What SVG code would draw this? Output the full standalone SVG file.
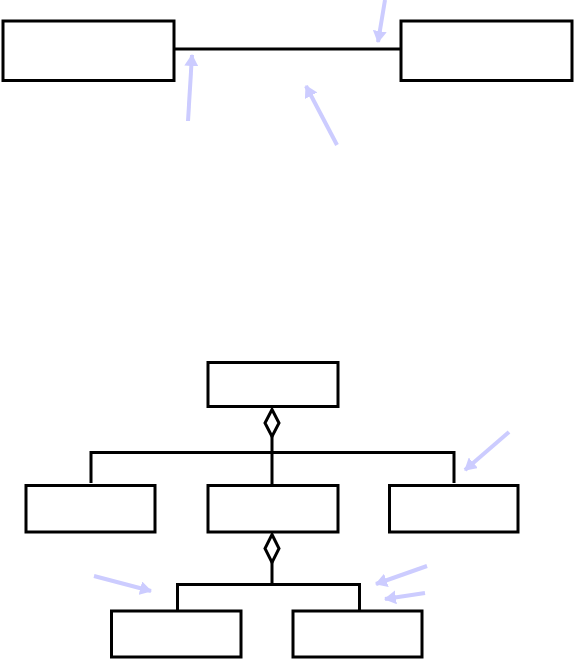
<svg xmlns="http://www.w3.org/2000/svg" width="575" height="659" viewBox="0 0 575 659">
<style>
.box{fill:#fff;stroke:#000;stroke-width:3}
.con{fill:none;stroke:#000;stroke-width:3}
.dia{fill:#fff;stroke:#000;stroke-width:3}
.note{fill:none;stroke:#ccccff;stroke-width:4;marker-end:url(#ah)}
</style>
<defs>
<marker id="ah" markerUnits="userSpaceOnUse" viewBox="0 0 12 14" refX="11" refY="7" markerWidth="12" markerHeight="14" orient="auto">
<path d="M0,0 L12,7 L0,14 Z" fill="#ccccff"/>
</marker>
</defs>
<g id="connectors">
<line class="con" x1="174" y1="49" x2="400" y2="49"/>
<line class="con" x1="272" y1="436" x2="272" y2="485"/>
<polyline class="con" points="91,483 91,452.5 454,452.5 454,483"/>
<line class="con" x1="272" y1="562" x2="272" y2="584.5"/>
<polyline class="con" points="177.5,610 177.5,584.5 359.5,584.5 359.5,610"/>
<path class="dia" d="M272,409.5 L279,423 L272,436.5 L265,423 Z"/>
<path class="dia" d="M272,534.5 L279,548.5 L272,562.5 L265,548.5 Z"/>
</g>
<g id="notes">
<line class="note" x1="188" y1="121" x2="192" y2="55"/>
<line class="note" x1="337" y1="145" x2="306" y2="86"/>
<line class="note" x1="385" y1="0" x2="378" y2="42"/>
<line class="note" x1="509" y1="432" x2="465" y2="470"/>
<line class="note" x1="94" y1="576" x2="151" y2="591"/>
<line class="note" x1="427" y1="566" x2="376" y2="584"/>
<line class="note" x1="425" y1="593" x2="385" y2="599"/>
</g>
<g id="nodeA"><rect class="box" x="3" y="21" width="171" height="59.5"/></g>
<g id="nodeB"><rect class="box" x="401" y="21" width="171" height="59.5"/></g>
<g id="nodeTop"><rect class="box" x="208" y="362.5" width="130" height="44"/></g>
<g id="nodeLeft"><rect class="box" x="26" y="485.5" width="129" height="46.5"/></g>
<g id="nodeMid"><rect class="box" x="208" y="485.5" width="130" height="46.5"/></g>
<g id="nodeRight"><rect class="box" x="389.5" y="485.5" width="128.5" height="46.5"/></g>
<g id="nodeBL"><rect class="box" x="111.5" y="611" width="129.5" height="46"/></g>
<g id="nodeBR"><rect class="box" x="293" y="611" width="129" height="46"/></g>
</svg>
